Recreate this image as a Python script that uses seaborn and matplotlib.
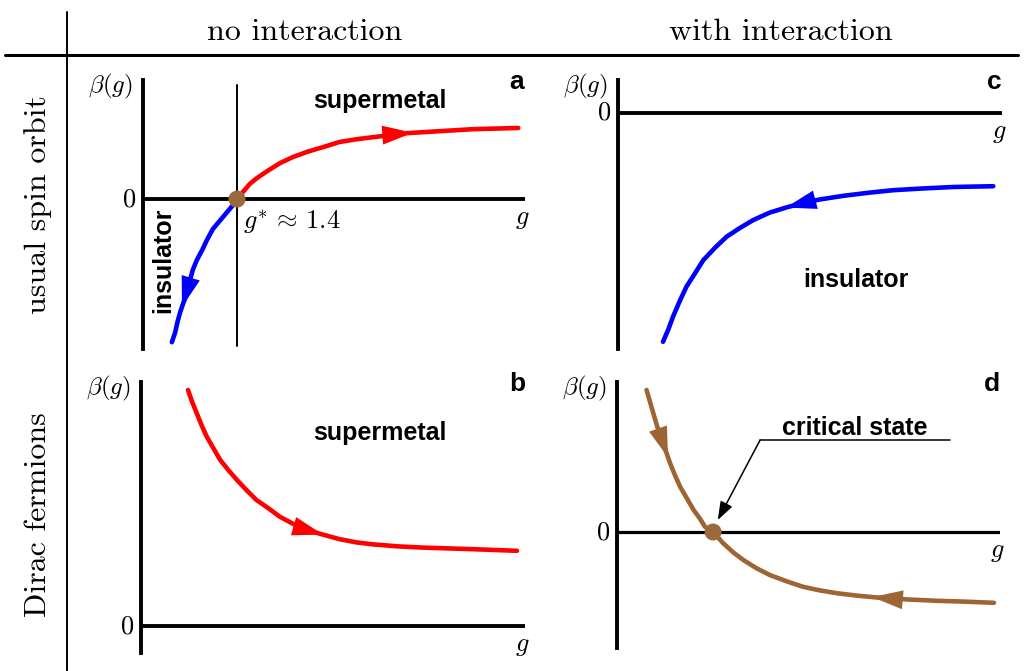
import numpy as np
import matplotlib
matplotlib.use("Agg")
import matplotlib.pyplot as plt
import seaborn as sns

sns.set_style("white")
plt.rcParams["mathtext.fontset"] = "cm"
plt.rcParams["text.color"] = "black"

RED = "#ff0000"
BLUE = "#0000ff"
BROWN = "#9e6534"
DOT = "#9a6a3c"
SANS = "Liberation Sans"
SERIF = "cmr10"

# panel a: usual spin orbit, no interaction
a_up_g = [1.40, 1.49, 1.59, 1.70, 1.85, 2.04, 2.23, 2.44, 2.68, 2.93, 3.19, 3.43,
          3.93, 4.42, 4.92, 5.59]
a_up_beta = [0.0, 0.18, 0.38, 0.53, 0.70, 0.90, 1.05, 1.18, 1.30, 1.43, 1.50, 1.55,
             1.65, 1.70, 1.75, 1.78]
a_down_g = [1.40, 1.34, 1.25, 1.15, 1.04, 0.95, 0.88, 0.80, 0.74, 0.70, 0.66, 0.60,
            0.55, 0.51, 0.48, 0.43]
a_down_beta = [0.0, -0.15, -0.33, -0.53, -0.75, -1.03, -1.28, -1.53, -1.78, -2.03,
               -2.33, -2.60, -2.85, -3.10, -3.33, -3.58]
a_g_star = 1.40

# panel c: usual spin orbit, with interaction
c_g = [0.67, 0.75, 0.82, 0.92, 1.02, 1.15, 1.27, 1.45, 1.62, 1.82, 2.01, 2.26, 2.51,
       2.76, 3.01, 3.36, 3.75, 4.10, 4.50, 4.99, 5.59]
c_beta = [-5.72, -5.41, -5.09, -4.70, -4.34, -4.00, -3.68, -3.36, -3.09, -2.87, -2.68,
          -2.49, -2.36, -2.25, -2.16, -2.07, -1.99, -1.93, -1.89, -1.85, -1.83]

# panel b: Dirac fermions, no interaction
b_g = [0.70, 0.76, 0.83, 0.90, 0.98, 1.08, 1.18, 1.30, 1.43, 1.57, 1.72, 1.90, 2.07,
       2.27, 2.47, 2.72, 2.96, 3.21, 3.46, 3.83, 4.20, 4.95, 5.60]
b_beta = [5.90, 5.61, 5.32, 5.03, 4.73, 4.44, 4.15, 3.90, 3.65, 3.40, 3.15, 2.94, 2.73,
          2.55, 2.40, 2.28, 2.17, 2.09, 2.04, 1.99, 1.96, 1.92, 1.88]

# panel d: Dirac fermions, with interaction
d_g = [0.44, 0.49, 0.54, 0.60, 0.67, 0.73, 0.79, 0.86, 0.94, 1.04, 1.14, 1.24, 1.31,
       1.43, 1.58, 1.73, 1.88, 2.08, 2.28, 2.52, 2.77, 3.02, 3.27, 3.62, 4.02, 4.37,
       4.76, 5.16, 5.61]
d_beta = [3.55, 3.26, 2.97, 2.63, 2.30, 2.01, 1.72, 1.43, 1.13, 0.84, 0.55, 0.32, 0.13,
          0.0, -0.28, -0.51, -0.70, -0.91, -1.08, -1.23, -1.37, -1.46, -1.53, -1.60,
          -1.66, -1.69, -1.72, -1.74, -1.77]
d_g_star = 1.43

col_titles = ["no interaction", "with interaction"]
row_titles = ["usual spin orbit", "Dirac fermions"]

W, H = 1024, 671
fig = plt.figure(figsize=(W / 100, H / 100), dpi=100)


def box(x0, y0, x1, y1):
    return [x0 / W, 1 - y1 / H, (x1 - x0) / W, (y1 - y0) / H]


def setup(ax, xlim, ylim, letter, zero_lw=2.8):
    ax.set_xlim(*xlim)
    ax.set_ylim(*ylim)
    ax.set_xticks([])
    ax.set_yticks([])
    for s in ["top", "right", "bottom"]:
        ax.spines[s].set_visible(False)
    ax.spines["left"].set_linewidth(2.8)
    ax.spines["left"].set_color("black")
    ax.patch.set_alpha(0)
    ax.axhline(0, color="black", lw=zero_lw, zorder=1)
    ax.annotate(r"$\beta(g)$", xy=(0, 1), xycoords="axes fraction", xytext=(-10, -6),
                textcoords="offset pixels", ha="right", va="center", fontsize=18)
    ax.annotate(r"$0$", xy=(0, 0), xycoords=("axes fraction", "data"), xytext=(-7, 0),
                textcoords="offset pixels", ha="right", va="center", fontsize=19)
    ax.annotate(r"$g$", xy=(1, 0), xycoords=("axes fraction", "data"), xytext=(-3, -19),
                textcoords="offset pixels", ha="center", va="center", fontsize=19)
    ax.annotate(letter, xy=(1, 1), xycoords="axes fraction", xytext=(-8, -2),
                textcoords="offset pixels", ha="center", va="center", fontsize=19,
                fontweight="bold", family=SANS)


def curve(ax, g, beta, color):
    sns.lineplot(x=g, y=beta, ax=ax, color=color, lw=3.3, sort=False,
                 estimator=None, zorder=3)


def arrow_on(ax, g, beta, g_tip, forward, color):
    order = np.argsort(g)
    gs = np.asarray(g)[order]
    bs = np.asarray(beta)[order]
    g_tail = g_tip - 0.12 * forward
    tip = (g_tip, np.interp(g_tip, gs, bs))
    tail = (g_tail, np.interp(g_tail, gs, bs))
    ax.annotate("", xy=tip, xytext=tail,
                arrowprops=dict(arrowstyle="-|>,head_length=0.55,head_width=0.17",
                                mutation_scale=40, color=color, lw=0,
                                shrinkA=0, shrinkB=0), zorder=4)


def dot(ax, g0):
    sns.scatterplot(x=[g0], y=[0], ax=ax, s=150, color=DOT, edgecolor="none",
                    zorder=5, clip_on=False)


label_kw = dict(fontsize=18, fontweight="bold", family=SANS, ha="center", va="center")

# ---- panel a
ax_a = fig.add_axes(box(143, 80, 525, 349))
setup(ax_a, (0, 5.69), (-3.75, 2.98), "a")
ax_a.axvline(a_g_star, ymin=0.01, ymax=0.98, color="black", lw=1.4, zorder=1)
curve(ax_a, a_up_g, a_up_beta, RED)
curve(ax_a, a_down_g, a_down_beta, BLUE)
arrow_on(ax_a, a_up_g, a_up_beta, 4.02, +1, RED)
arrow_on(ax_a, a_down_g, a_down_beta, 0.58, -1, BLUE)
dot(ax_a, a_g_star)
ax_a.text(3.53, 2.45, "supermetal", **label_kw)
ax_a.text(0.30, -1.53, "insulator", rotation=90, **label_kw)
ax_a.text(1.49, -0.58, r"$g^{*}\,\approx\,1.4$", fontsize=19, ha="left", va="center")

# ---- panel c
ax_c = fig.add_axes(box(618, 80, 1002, 349))
setup(ax_c, (0, 5.72), (-5.9, 0.825), "c")
curve(ax_c, c_g, c_beta, BLUE)
arrow_on(ax_c, c_g, c_beta, 2.5, -1, BLUE)
ax_c.text(3.54, -4.18, "insulator", **label_kw)

# ---- panel b
ax_b = fig.add_axes(box(141, 382, 525, 653))
setup(ax_b, (0, 5.72), (-0.675, 6.1), "b")
curve(ax_b, b_g, b_beta, RED)
arrow_on(ax_b, b_g, b_beta, 2.71, +1, RED)
ax_b.text(3.56, 4.83, "supermetal", **label_kw)

# ---- panel d
ax_d = fig.add_axes(box(617, 382, 1000, 648))
setup(ax_d, (0, 5.70), (-2.9, 3.75), "d", zero_lw=2.3)
curve(ax_d, d_g, d_beta, BROWN)
arrow_on(ax_d, d_g, d_beta, 0.76, +1, BROWN)
arrow_on(ax_d, d_g, d_beta, 3.8, -1, BROWN)
dot(ax_d, d_g_star)
ax_d.text(3.54, 2.43, "critical state", fontsize=18, fontweight="bold", family=SANS,
          ha="center", va="baseline")
ax_d.plot([2.13, 4.96], [2.3, 2.3], color="black", lw=1.1)
ax_d.annotate("", xy=(1.50, 0.30), xytext=(2.13, 2.3),
              arrowprops=dict(arrowstyle="-|>,head_length=0.7,head_width=0.25",
                              mutation_scale=16, color="black", lw=1.1,
                              shrinkA=0, shrinkB=0))

# ---- table frame and headers
frame = fig.add_axes([0, 0, 1, 1], zorder=-1)
frame.set_xlim(0, W)
frame.set_ylim(H, 0)
frame.axis("off")
frame.plot([5, 1018], [55, 55], color="black", lw=2.2)
frame.plot([67, 67], [12, H], color="black", lw=1.4)
for x, t in zip([305, 781], col_titles):
    frame.text(x, 32, t, family=SERIF, fontsize=23, ha="center", va="center")
for y, t in zip([205, 515], row_titles):
    frame.text(38, y, t, family=SERIF, fontsize=23, rotation=90, ha="center", va="center")

fig.savefig("out.png", dpi=100)
